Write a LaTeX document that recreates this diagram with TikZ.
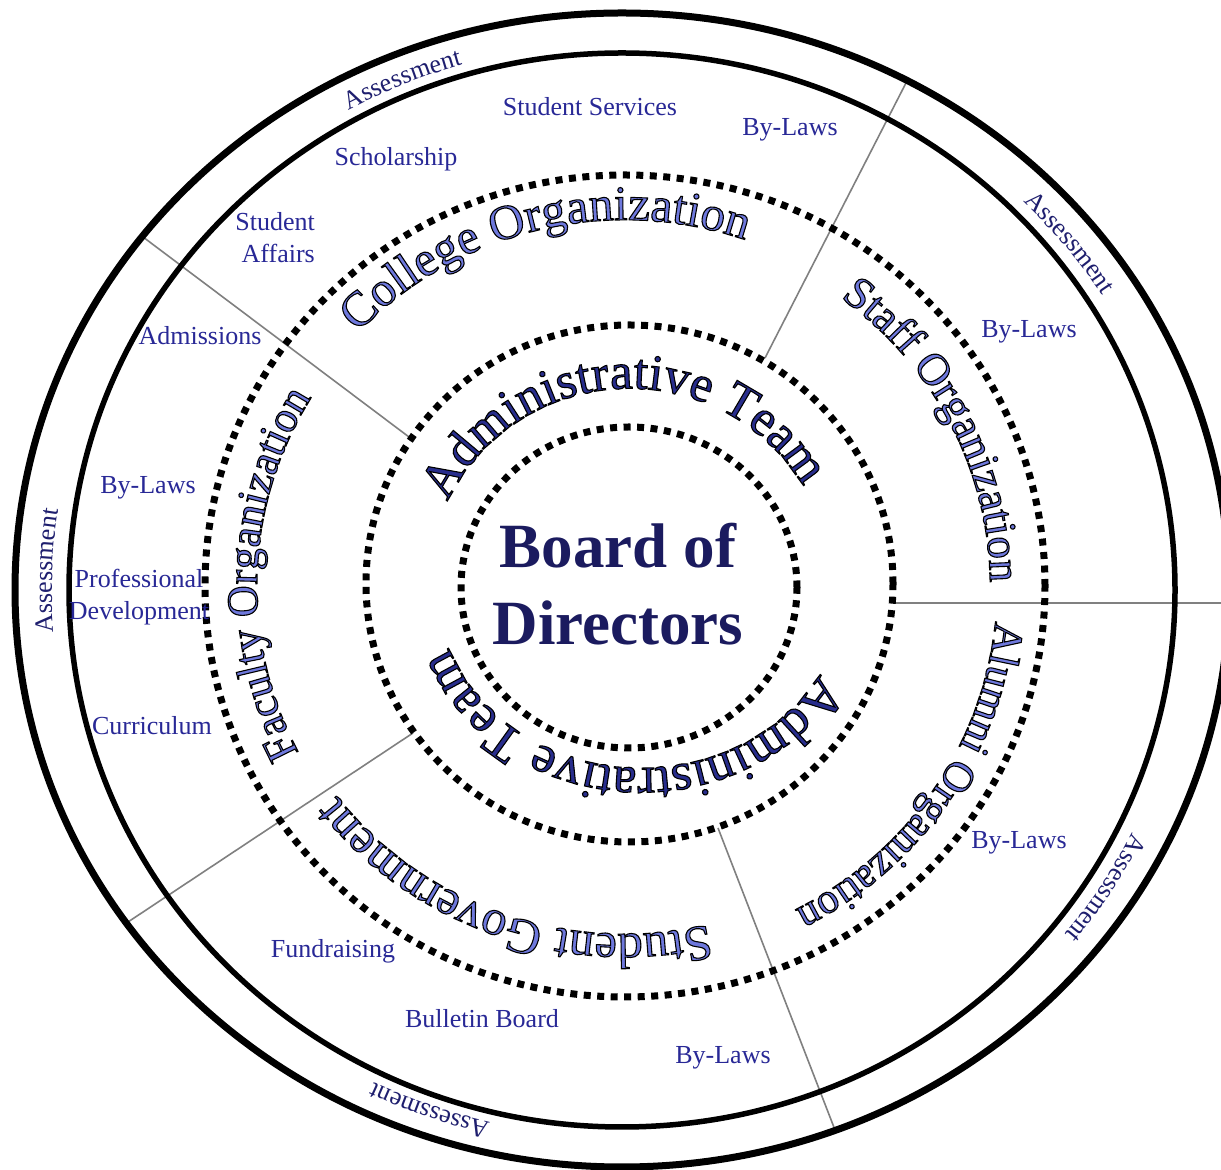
\documentclass[tikz,border=0pt]{standalone}
\usepackage{fontspec}
\setmainfont{Liberation Serif}
\usetikzlibrary{decorations.text}
\definecolor{labelblue}{RGB}{40,40,150}
\definecolor{assessnavy}{RGB}{30,30,110}
\definecolor{boardnavy}{RGB}{27,27,95}
\definecolor{orgfill}{RGB}{110,120,220}
\definecolor{adminfill}{RGB}{40,45,140}
\definecolor{dividergray}{RGB}{128,128,128}

% black outline of glyphs (fill + stroke render mode)
\newcommand{\outlineon}{\special{pdf:literal direct 0 0 0 RG 2 Tr 1.1 w}}
\newcommand{\outlineoff}{\special{pdf:literal direct 0 Tr}}

% outlined text along a clockwise elliptic arc
% #1 cx, #2 cy, #3 rx, #4 ry, #5 start, #6 end, #7 size, #8 fill colour, #9 text
\newcommand{\arctext}[9]{%
  \path[decorate, decoration={text along path, text align=center,
      text={|\fontsize{#7}{#7}\selectfont\color{#8}\outlineon|#9}}]
      (#1,#2) ++(#5:#3 and #4) arc[start angle=#5, end angle=#6, x radius=#3, y radius=#4];
  \outlineoff
}
% plain text along a clockwise elliptic arc
\newcommand{\arcplain}[8]{%
  \path[decorate, decoration={text along path, text align=center,
      text={|\fontsize{#7}{#7}\selectfont\color{#8}|Assessment}}]
      (#1,#2) ++(#5:#3 and #4) arc[start angle=#5, end angle=#6, x radius=#3, y radius=#4];
}

\begin{document}
\begin{tikzpicture}[x=1pt, y=1pt,
  outerring/.style={line width=7pt, black},
  innerring/.style={line width=5.5pt, black},
  dotring/.style={line width=7pt, black, dash pattern=on 7pt off 6.5pt},
  divider/.style={line width=1.6pt, dividergray},
  lbl/.style={text=labelblue, font=\fontsize{26}{32}\selectfont, inner sep=0pt},
  boardtxt/.style={text=boardnavy, font=\fontsize{63}{63}\selectfont\bfseries, inner sep=0pt, anchor=base}]
\useasboundingbox (0,0) rectangle (1221,1170);
\fill[white] (0,0) rectangle (1221,1170);

% centres
\coordinate (cOut) at (622,580);
\coordinate (cCol) at (625,584);
\coordinate (cAdm) at (629.5,586.5);
\coordinate (cBrd) at (629,582.5);

% divider lines
\coordinate (d1a) at (413,730);  \coordinate (d1b) at (143,933);
\coordinate (d2a) at (765,812);  \coordinate (d2b) at (907,1089);
\coordinate (d3a) at (893,567);  \coordinate (d3b) at (1230,567);
\coordinate (d4a) at (413,437);  \coordinate (d4b) at (128,248);
\coordinate (d5a) at (718,342);  \coordinate (d5b) at (835,40);
\draw[divider] (d1a) -- (d1b);
\draw[divider] (d2a) -- (d2b);
\draw[divider] (d3a) -- (d3b);
\draw[divider] (d4a) -- (d4b);
\draw[divider] (d5a) -- (d5b);

% rings
\draw[outerring] (cOut) ellipse [x radius=607, y radius=577];
\draw[innerring] (cOut) ellipse [x radius=553, y radius=537];
\draw[dotring] (cCol) ellipse [x radius=420, y radius=411];
\draw[dotring] (cAdm) ellipse [x radius=263.5, y radius=258.5];
\draw[dotring] (cBrd) ellipse [x radius=168, y radius=160.5];

% Assessment labels in the outer band
\arcplain{622}{580}{570}{547}{137.6}{87.6}{26}{assessnavy}
\arcplain{622}{580}{570}{547}{63.7}{13.7}{26}{assessnavy}
\arcplain{622}{580}{570}{547}{203}{153}{26}{assessnavy}
\arcplain{622}{580}{570}{547}{-7.5}{-57.5}{26}{assessnavy}
\arcplain{622}{580}{570}{547}{-84.7}{-134.7}{26}{assessnavy}

% curved organisation labels
\arctext{625}{584}{370}{366}{163.7}{43.7}{49}{orgfill}{College Organization}
\arctext{625}{584}{365}{357}{77}{-23}{45}{orgfill}{Staff Organization}
\arctext{625}{584}{372}{364}{16}{-84}{43}{orgfill}{Alumni Organization}
\arctext{625}{584}{361}{348}{-60}{-160}{50}{orgfill}{Student Government}
\arctext{625}{584}{368}{360}{228}{128}{44}{orgfill}{Faculty Organization}
\arctext{629.5}{586.5}{200}{195}{172.5}{12.5}{51}{adminfill}{Administrative Team}
\arctext{641}{582}{203}{180}{-14.7}{-174.7}{53}{adminfill}{Administrative Team}

% centre
\node[boardtxt] (boardA) at (618,602) {Board of};
\node[boardtxt] (boardB) at (618,525) {Directors};

% plain labels
\node[lbl] (stserv) at (590,1063) {Student Services};
\node[lbl] (bylawsA) at (790,1040) {By-Laws};
\node[lbl] (schol) at (396,1011) {Scholarship};
\node[lbl, align=right, anchor=east] (staff) at (315,932) {Student\\Affairs};
\node[lbl] (admiss) at (200,834) {Admissions};
\node[lbl] (bylawsB) at (1029,838) {By-Laws};
\node[lbl] (bylawsC) at (148,682) {By-Laws};
\node[lbl, align=center] (profdev) at (139,573) {Professional\\Development};
\node[lbl] (curric) at (152,444) {Curriculum};
\node[lbl] (bylawsD) at (1019,327) {By-Laws};
\node[lbl] (fundr) at (333,219) {Fundraising};
\node[lbl] (bullet) at (482,151) {Bulletin Board};
\node[lbl] (bylawsE) at (723,112) {By-Laws};
\end{tikzpicture}
\end{document}
